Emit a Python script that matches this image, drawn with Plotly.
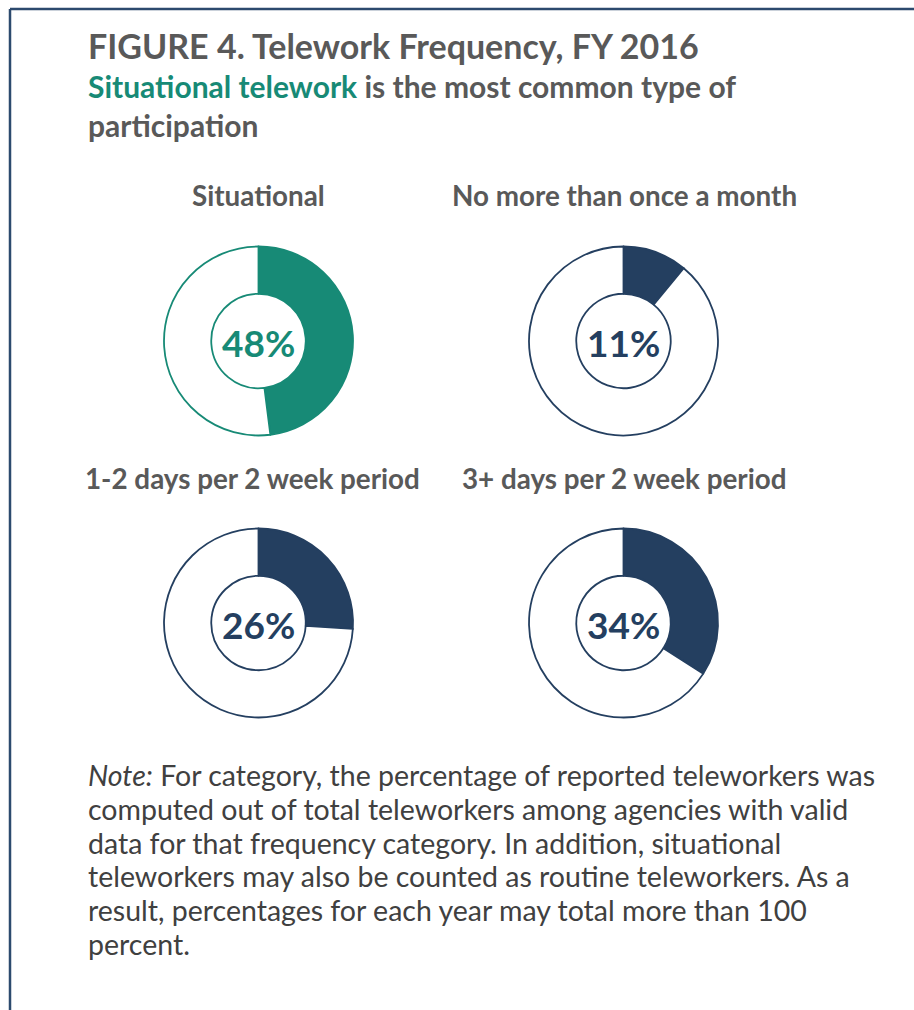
import plotly.graph_objects as go

# Telework frequency shares, FY 2016
categories = ["Situational", "No more than once a month",
              "1-2 days per 2 week period", "3+ days per 2 week period"]
shares = [48, 11, 26, 34]
ring_colors = ["#178a76", "#243f60", "#243f60", "#243f60"]

title_text = "FIGURE 4. Telework Frequency, FY 2016"
subtitle_lead = "Situational telework"
subtitle_rest = " is the most common type of"
subtitle_line2 = "participation"
note_lines = [
    "<i>Note:</i> For category, the percentage of reported teleworkers was",
    "computed out of total teleworkers among agencies with valid",
    "data for that frequency category. In addition, situational",
    "teleworkers may also be counted as routine teleworkers. As a",
    "result, percentages for each year may total more than 100",
    "percent.",
]

W, H = 914, 1010
FONT = "Lato"
GRAY = "#595959"
TEAL = "#178a76"

# ring centres (px) and outer radius
centers = [(258.5, 341), (623.5, 341), (258.5, 623), (623.5, 623)]
title_pos = [(258.5, 196), (624, 196), (252, 478), (624, 478)]
R = 94.5


def px(x):
    return x / W


def py(y):
    return 1 - y / H


fig = go.Figure()
annotations = []

for name, val, col, (cx, cy), (tx, ty) in zip(categories, shares, ring_colors, centers, title_pos):
    fig.add_trace(go.Pie(
        values=[val, 100 - val],
        labels=[name, "Other"],
        marker=dict(colors=[col, "white"], line=dict(color=col, width=1.8)),
        hole=0.5,
        sort=False,
        direction="clockwise",
        rotation=0,
        textinfo="none",
        hoverinfo="label+percent",
        showlegend=False,
        domain=dict(x=[px(cx - R), px(cx + R)], y=[py(cy + R), py(cy - R)]),
    ))
    annotations.append(dict(
        x=px(cx), y=py(cy + 1), xref="paper", yref="paper",
        text=f"<b>{val}%</b>", showarrow=False,
        xanchor="center", yanchor="middle",
        font=dict(family=FONT, size=37, color=col),
    ))
    annotations.append(dict(
        x=px(tx), y=py(ty), xref="paper", yref="paper",
        text=f"<b>{name}</b>", showarrow=False,
        xanchor="center", yanchor="middle",
        font=dict(family=FONT, size=27.8, color=GRAY),
    ))

annotations.append(dict(
    x=px(86), y=py(45), xref="paper", yref="paper",
    text=f"<b>{title_text}</b>", showarrow=False,
    xanchor="left", yanchor="middle",
    font=dict(family=FONT, size=34, color=GRAY),
))
annotations.append(dict(
    x=px(86), y=py(86), xref="paper", yref="paper",
    text=f"<b><span style='color:{TEAL}'>{subtitle_lead}</span>{subtitle_rest}</b>",
    showarrow=False, xanchor="left", yanchor="middle",
    font=dict(family=FONT, size=30, color=GRAY),
))
annotations.append(dict(
    x=px(86), y=py(125), xref="paper", yref="paper",
    text=f"<b>{subtitle_line2}</b>", showarrow=False,
    xanchor="left", yanchor="middle",
    font=dict(family=FONT, size=30, color=GRAY),
))

for i, line in enumerate(note_lines):
    annotations.append(dict(
        x=px(86), y=py(775 + i * 33.8), xref="paper", yref="paper",
        text=line, showarrow=False, xanchor="left", yanchor="middle",
        font=dict(family=FONT, size=28.5, color="#404040"),
    ))

# frame on the left and top edges
frame = "#2c4a6e"
shapes = [
    dict(type="line", xref="paper", yref="paper",
         x0=px(10), x1=px(10), y0=0, y1=py(9), line=dict(color=frame, width=2.5)),
    dict(type="line", xref="paper", yref="paper",
         x0=px(10), x1=1, y0=py(9), y1=py(9), line=dict(color=frame, width=2.5)),
]

fig.update_layout(
    width=W, height=H, autosize=False,
    margin=dict(l=0, r=0, t=0, b=0),
    paper_bgcolor="white", plot_bgcolor="white",
    annotations=annotations, shapes=shapes,
)

fig.write_html("out.html")
